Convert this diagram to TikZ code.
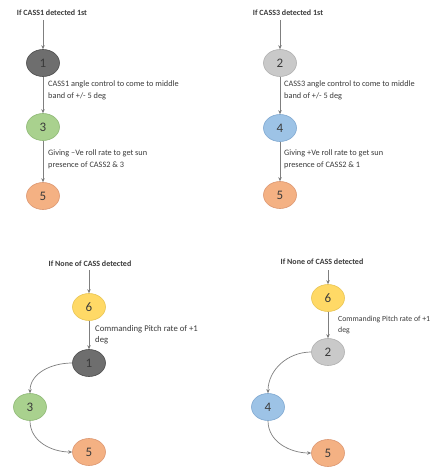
\documentclass[tikz,border=0pt]{standalone}
\usepackage{fontspec}
\setmainfont{Carlito}
\usetikzlibrary{arrows.meta,shapes.geometric}
\definecolor{txt}{HTML}{3A3A3A}
\definecolor{lin}{HTML}{7F7F7F}
\definecolor{cA}{HTML}{6E6E6E}\definecolor{bA}{HTML}{4A4A4A}
\definecolor{cB}{HTML}{C9C9C9}\definecolor{bB}{HTML}{AFAFAF}
\definecolor{cG}{HTML}{A9D18E}\definecolor{bG}{HTML}{8DB874}
\definecolor{cU}{HTML}{9DC3E6}\definecolor{bU}{HTML}{7EA7D0}
\definecolor{cS}{HTML}{F4B183}\definecolor{bS}{HTML}{DC9670}
\definecolor{cY}{HTML}{FFD966}\definecolor{bY}{HTML}{E8C452}
\tikzset{
  stn/.style 2 args={draw=#2, fill=#1, line width=0.6pt, ellipse, minimum width=33pt, minimum height=27pt, inner sep=0pt, font=\fontsize{13}{13}\selectfont, text=txt},
  cond/.style={font=\fontsize{8}{9}\selectfont\bfseries, text=txt},
  lbl/.style={font=\fontsize{8.3}{11.5}\selectfont, text=txt, align=left, anchor=north west, inner sep=0pt},
  conn/.style={draw=lin, line width=0.7pt, -{Stealth[length=4pt,width=3.5pt,fill=black!80]}}
}
\begin{document}
\begin{tikzpicture}[x=1pt,y=-1pt]
\useasboundingbox (0,0) rectangle (443,470);
% top-left
\node[cond] (t1) at (52,13) {If CASS1 detected 1st};
\node[stn={cA}{bA}] (a1) at (43,63) {1};
\node[stn={cG}{bG}] (a3) at (43,127) {3};
\node[stn={cS}{bS}] (a5) at (43,196) {5};
\coordinate (sa) at (43,20);
\draw[conn] (sa) -- (a1.north);
\draw[conn] (a1.south) -- (a3.north);
\draw[conn] (a3.south) -- (a5.north);
\node[lbl] (la1) at (48,81) {CASS1 angle control to come to middle\\band of +/- 5 deg};
\node[lbl] (la2) at (48,150) {Giving –Ve roll rate to get sun\\presence of CASS2 \& 3};
% top-right
\node[cond] (t2) at (288,13) {If CASS3 detected 1st};
\node[stn={cB}{bB}] (b2) at (280,63) {2};
\node[stn={cU}{bU}] (b4) at (280,128) {4};
\node[stn={cS}{bS}] (b5) at (280,195) {5};
\coordinate (sb) at (280,20);
\draw[conn] (sb) -- (b2.north);
\draw[conn] (b2.south) -- (b4.north);
\draw[conn] (b4.south) -- (b5.north);
\node[lbl] (lb1) at (284,81) {CASS3 angle control to come to middle\\band of +/- 5 deg};
\node[lbl] (lb2) at (284,150) {Giving +Ve roll rate to get sun\\presence of CASS2 \& 1};
% bottom-left
\node[cond] (t3) at (90,264) {If None of CASS detected};
\node[stn={cY}{bY}] (c6) at (89,307) {6};
\node[stn={cA}{bA}] (c1) at (89,363) {1};
\node[stn={cG}{bG}] (c3) at (30,407) {3};
\node[stn={cS}{bS}] (c5) at (89,452) {5};
\coordinate (sc) at (89,270);
\draw[conn] (sc) -- (c6.north);
\draw[conn] (c6.south) -- (c1.north);
\draw[conn] (c1.west) to[out=180,in=90] (c3.north);
\draw[conn] (c3.south) to[out=-90,in=180] (c5.west);
\node[lbl, font=\fontsize{8.7}{11}\selectfont] (lc) at (95,325) {Commanding Pitch rate of +1\\deg};
% bottom-right
\node[cond] (t4) at (322,262) {If None of CASS detected};
\node[stn={cY}{bY}] (d6) at (328,298) {6};
\node[stn={cB}{bB}] (d2) at (328,352) {2};
\node[stn={cU}{bU}] (d4) at (268,407) {4};
\node[stn={cS}{bS}] (d5) at (328,453) {5};
\coordinate (sd) at (328,270);
\draw[conn] (sd) -- (d6.north);
\draw[conn] (d6.south) -- (d2.north);
\draw[conn] (d2.west) to[out=180,in=90] (d4.north);
\draw[conn] (d4.south) to[out=-90,in=180] (d5.west);
\node[lbl, font=\fontsize{7.8}{10.5}\selectfont] (ld) at (338,316) {Commanding Pitch rate of +1\\deg};
\end{tikzpicture}
\end{document}
